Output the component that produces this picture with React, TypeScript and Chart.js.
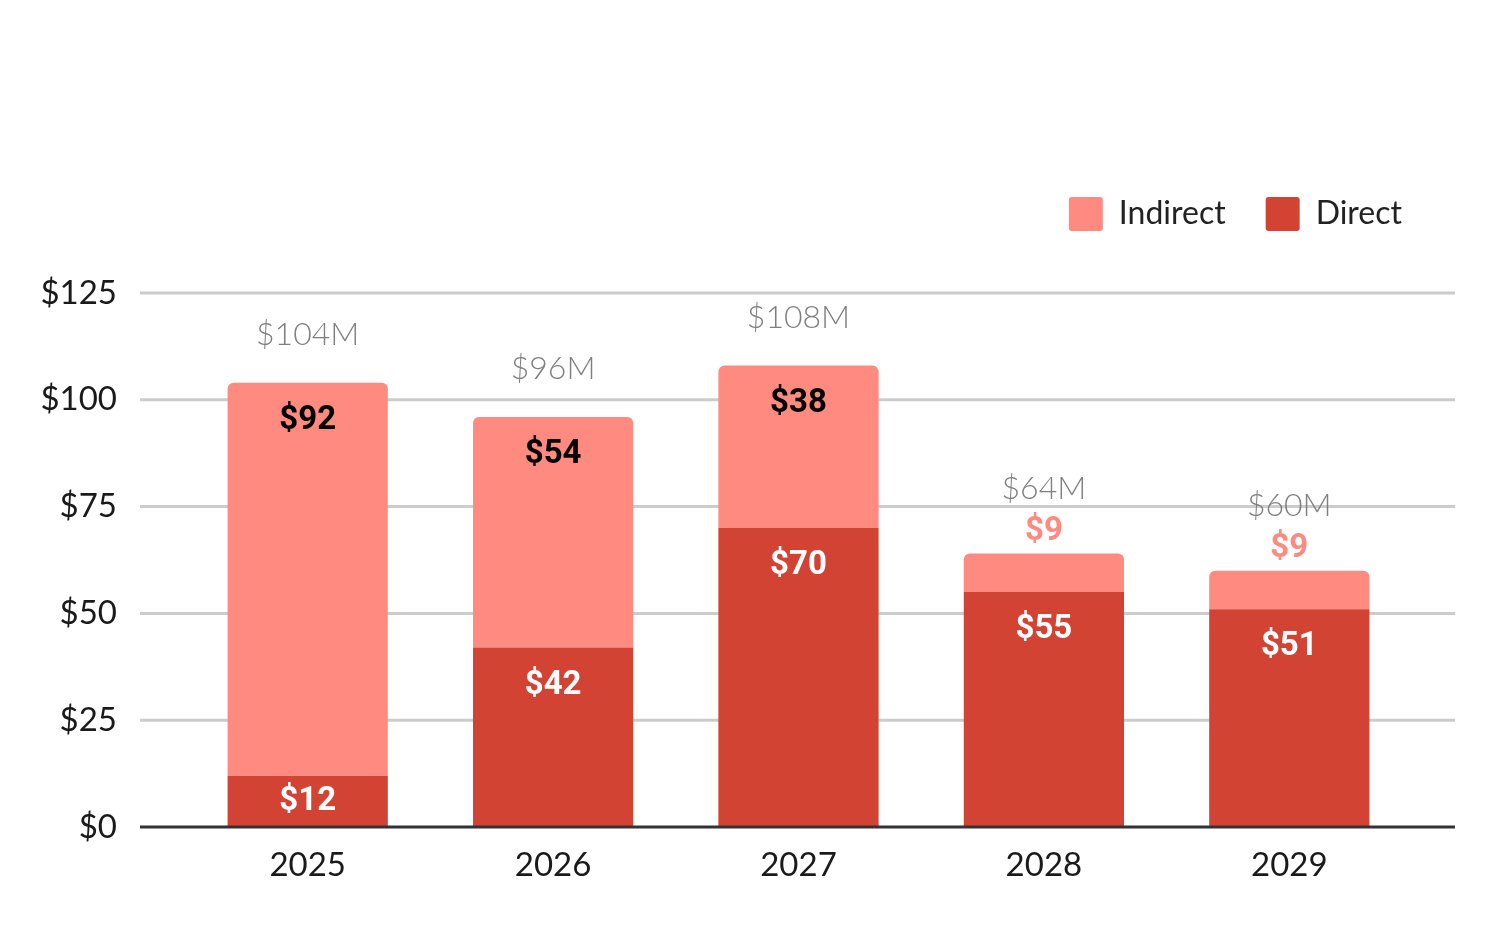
import React, { useEffect, useRef } from 'react';
import { Chart, registerables } from 'chart.js';
Chart.register(...registerables);

const years = ['2025', '2026', '2027', '2028', '2029'];
const direct = [12, 42, 70, 55, 51];
const indirect = [92, 54, 38, 9, 9];
const yTicks = [0, 25, 50, 75, 100, 125];

const DIRECT_COLOR = '#d24334';
const INDIRECT_COLOR = '#ff8a80';
const FONT = 'Lato, "Open Sans", sans-serif';

// horizontal grid lines run wider than the plot area
const gridPlugin = {
  id: 'wideGrid',
  beforeDatasetsDraw(chart: any) {
    const { ctx, scales } = chart;
    ctx.save();
    ctx.strokeStyle = '#cccccc';
    ctx.lineWidth = 3;
    yTicks.forEach((t) => {
      if (t === 0) return;
      const y = scales.y.getPixelForValue(t);
      ctx.beginPath();
      ctx.moveTo(140, y);
      ctx.lineTo(1455, y);
      ctx.stroke();
    });
    ctx.restore();
  },
  afterDatasetsDraw(chart: any) {
    const { ctx, scales } = chart;
    const y = scales.y.getPixelForValue(0);
    ctx.save();
    ctx.strokeStyle = '#333333';
    ctx.lineWidth = 3;
    ctx.beginPath();
    ctx.moveTo(140, y);
    ctx.lineTo(1455, y);
    ctx.stroke();
    ctx.restore();
  },
};

// extra space between the legend and the plot
const legendMargin = {
  id: 'legendMargin',
  beforeInit(chart: any) {
    const fit = chart.legend.fit;
    chart.legend.fit = function () {
      fit.bind(chart.legend)();
      this.height += 52;
    };
  },
};

const labelPlugin = {
  id: 'barLabels',
  afterDatasetsDraw(chart: any) {
    const { ctx } = chart;
    const dMeta = chart.getDatasetMeta(0);
    const iMeta = chart.getDatasetMeta(1);
    ctx.save();
    ctx.textAlign = 'center';
    ctx.textBaseline = 'middle';
    years.forEach((_, i) => {
      const dBar = dMeta.data[i];
      const iBar = iMeta.data[i];
      // direct segment
      const dh = dBar.base - dBar.y;
      ctx.font = `bold 33px Roboto, sans-serif`;
      ctx.fillStyle = '#ffffff';
      ctx.fillText(`$${direct[i]}`, dBar.x, dh > 80 ? dBar.y + 38 : (dBar.y + dBar.base) / 2);
      // indirect segment
      const ih = iBar.base - iBar.y;
      let top = iBar.y;
      if (ih > 60) {
        ctx.fillStyle = '#000000';
        ctx.fillText(`$${indirect[i]}`, iBar.x, iBar.y + 38);
        top = iBar.y - 48;
      } else {
        const ly = iBar.y - 22;
        ctx.fillStyle = '#ffffff';
        ctx.fillRect(iBar.x - 22, ly - 23, 44, 42);
        ctx.fillStyle = INDIRECT_COLOR;
        ctx.fillText(`$${indirect[i]}`, iBar.x, ly);
        top = iBar.y - 65;
      }
      ctx.font = `300 32px ${FONT}`;
      ctx.fillStyle = '#7f7f7f';
      ctx.fillText(`$${direct[i] + indirect[i]}M`, iBar.x, top);
    });
    ctx.restore();
  },
};

const App = () => {
  const chartRef = useRef<HTMLCanvasElement>(null);

  useEffect(() => {
    const ctx = (chartRef.current as HTMLCanvasElement).getContext('2d');
    const chart = new Chart(ctx as CanvasRenderingContext2D, {
      type: 'bar',
      data: {
        labels: years,
        datasets: [
          {
            label: 'Direct',
            data: direct,
            backgroundColor: DIRECT_COLOR,
            borderRadius: 0,
          },
          {
            label: 'Indirect',
            data: indirect,
            backgroundColor: INDIRECT_COLOR,
            borderRadius: { topLeft: 6, topRight: 6, bottomLeft: 0, bottomRight: 0 },
            borderSkipped: false,
          },
        ],
      },
      options: {
        responsive: true,
        maintainAspectRatio: false,
        animation: false,
        layout: { padding: { top: 100, right: 58, left: 0, bottom: 0 } },
        datasets: { bar: { categoryPercentage: 1, barPercentage: 0.653 } },
        plugins: {
          legend: {
            position: 'top',
            align: 'end',
            reverse: true,
            labels: {
              boxWidth: 34,
              boxHeight: 34,
              useBorderRadius: true,
              borderRadius: 3,
              padding: 40,
              color: '#222222',
              font: { family: FONT, size: 32 },
            },
          },
          tooltip: { enabled: false },
        },
        scales: {
          x: {
            stacked: true,
            grid: { display: false, drawTicks: false },
            border: { display: false },
            ticks: { color: '#1a1a1a', font: { family: FONT, size: 33 }, padding: 19 },
            afterFit: (scale: any) => {
              scale.height = 101;
              scale.paddingRight = 88;
            },
          },
          y: {
            stacked: true,
            min: 0,
            max: 125,
            grid: { display: false, drawTicks: false },
            border: { display: false },
            ticks: {
              stepSize: 25,
              color: '#1a1a1a',
              font: { family: FONT, size: 33 },
              padding: 68,
              callback: (v: any) => `$${v}`,
            },
            afterFit: (scale: any) => {
              scale.width = 185;
              scale.paddingTop = 293;
            },
          },
        },
      },
      plugins: [legendMargin, gridPlugin, labelPlugin],
    });

    return () => {
      chart.destroy();
    };
  }, []);

  return (
    <div style={{ position: 'fixed', left: 0, top: 0, width: 1500, height: 928, background: '#ffffff' }}>
      <canvas ref={chartRef}></canvas>
    </div>
  );
};

export default App;
